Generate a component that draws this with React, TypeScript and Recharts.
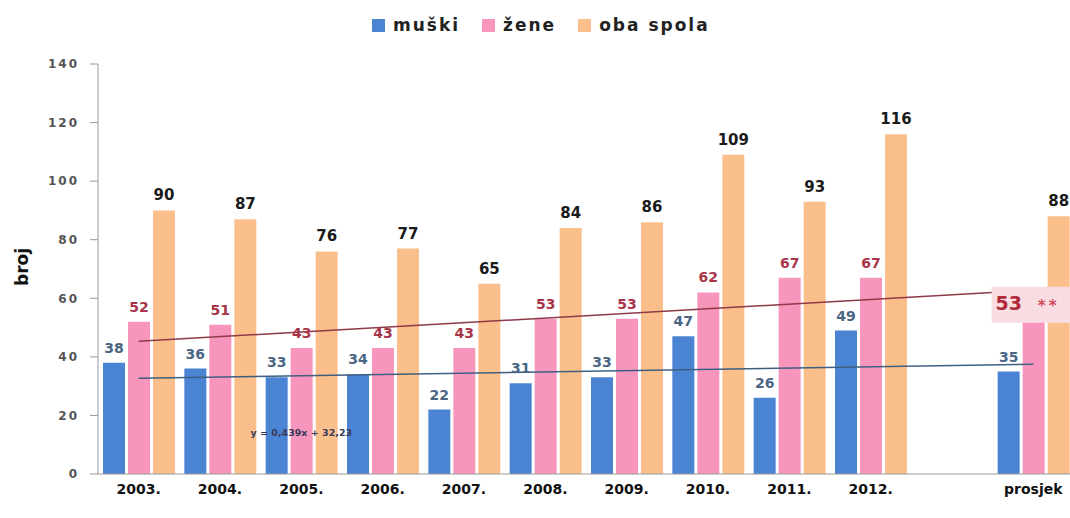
import {
  Bar,
  ComposedChart,
  LabelList,
  Line,
  ReferenceDot,
  XAxis,
  YAxis,
} from 'recharts'

const categories = ['2003.', '2004.', '2005.', '2006.', '2007.', '2008.', '2009.', '2010.', '2011.', '2012.', '', 'prosjek']
const muski = [38, 36, 33, 34, 22, 31, 33, 47, 26, 49, null, 35]
const zene = [52, 51, 43, 43, 43, 53, 53, 62, 67, 67, null, 53]
const obaSpola = [90, 87, 76, 77, 65, 84, 86, 109, 93, 116, null, 88]
// trendlines at first and last category
const trendMuski = [32.7, null, null, null, null, null, null, null, null, null, null, 37.5]
const trendZene = [45.3, null, null, null, null, null, null, null, null, null, null, 62.8]
const yTicks = [0, 20, 40, 60, 80, 100, 120, 140]
const equation = 'y = 0,439x + 32,23'
const seriesNames = ['muški', 'žene', 'oba spola']
const highlighted = 'prosjek'

const BLUE = '#4b84d2'
const PINK = '#f795bd'
const ORANGE = '#fbbf8b'
const FONT = '"DejaVu Sans", sans-serif'

const data = categories.map((name, i) => ({
  name,
  muski: muski[i],
  zene: zene[i],
  oba: obaSpola[i],
  zeneLbl: name === highlighted ? null : zene[i],
  zeneHl: name === highlighted ? zene[i] : null,
  trendM: trendMuski[i],
  trendZ: trendZene[i],
}))

const makeLabel = (color: string, size: number) => (props: any) => {
  const { x, y, width, value } = props
  if (value == null) return null
  return (
    <text x={x + width / 2} y={y - 10} textAnchor="middle" fill={color} fontSize={size} fontWeight="bold" fontFamily={FONT}>
      {value}
    </text>
  )
}

const highlightLabel = (props: any) => {
  const { x, y, value } = props
  if (value == null) return null
  return (
    <g>
      <rect x={x - 31} y={y - 32} width={90} height={36} fill="#f9dde2" />
      <text x={x - 14} y={y - 9} textAnchor="middle" fill="#b02a3c" fontSize={19} fontWeight="bold" fontFamily={FONT}>
        {value}
      </text>
      <text x={x + 26} y={y - 8} textAnchor="middle" fill="#d04a5c" fontSize={15} fontWeight="bold" fontFamily={FONT} letterSpacing={3}>
        **
      </text>
    </g>
  )
}

const legendColors = [BLUE, PINK, ORANGE]

export default function App() {
  return (
    <div
      style={{
        position: 'fixed',
        left: 0,
        top: 0,
        width: 1070,
        height: 518,
        overflow: 'hidden',
        background: '#fff',
        fontFamily: FONT,
      }}
    >
      <div style={{ position: 'absolute', left: 372, top: 15, display: 'flex', alignItems: 'center' }}>
        {seriesNames.map((s, i) => (
          <div key={s} style={{ display: 'flex', alignItems: 'center', marginRight: 22 }}>
            <div style={{ width: 13, height: 13, background: legendColors[i], marginRight: 8 }} />
            <span style={{ fontSize: 17, fontWeight: 'bold', color: '#222', letterSpacing: 2 }}>{s}</span>
          </div>
        ))}
      </div>
      <ComposedChart
        width={1080}
        height={518}
        data={data}
        margin={{ top: 64, right: 6, bottom: 0, left: 0 }}
        barCategoryGap={5}
        barGap={3}
      >
        <XAxis
          dataKey="name"
          height={44}
          tickLine={false}
          tickSize={0}
          tickMargin={10}
          axisLine={{ stroke: '#999' }}
          tick={{ fill: '#111', fontSize: 14, fontWeight: 'bold', fontFamily: FONT }}
          interval={0}
        />
        <YAxis
          width={98}
          domain={[0, 140]}
          ticks={yTicks}
          tickSize={8}
          tickMargin={11}
          axisLine={{ stroke: '#999' }}
          tickLine={{ stroke: '#999' }}
          tick={{ fill: '#555', fontSize: 12, fontWeight: 'bold', fontFamily: FONT, letterSpacing: 2 }}
          label={{
            content: (p: any) => {
              const vb = p.viewBox
              const cy = vb.y + vb.height / 2
              return (
                <text
                  transform={`translate(${vb.x + 28},${cy - 2}) rotate(-90)`}
                  textAnchor="middle"
                  fontSize={17}
                  fontWeight="bold"
                  fill="#111"
                  fontFamily={FONT}
                >
                  broj
                </text>
              )
            },
          }}
        />
        <Bar dataKey="muski" name="muški" fill={BLUE} isAnimationActive={false}>
          <LabelList dataKey="muski" content={makeLabel('#4a6584', 14)} />
        </Bar>
        <Bar dataKey="zene" name="žene" fill={PINK} isAnimationActive={false}>
          <LabelList dataKey="zeneLbl" content={makeLabel('#a8344a', 14)} />
          <LabelList dataKey="zeneHl" content={highlightLabel} />
        </Bar>
        <Bar dataKey="oba" name="oba spola" fill={ORANGE} isAnimationActive={false}>
          <LabelList dataKey="oba" content={makeLabel('#1a1a1a', 15)} />
        </Bar>
        <Line
          dataKey="trendZ"
          stroke="#8e3a48"
          strokeWidth={1.5}
          dot={false}
          connectNulls
          isAnimationActive={false}
        />
        <Line
          dataKey="trendM"
          stroke="#3e5f80"
          strokeWidth={1.5}
          dot={false}
          connectNulls
          isAnimationActive={false}
        />
        <ReferenceDot
          x="2005."
          y={14}
          r={0}
          stroke="none"
          label={{ value: equation, position: 'center', fill: '#3a3a5a', fontSize: 9.5, fontWeight: 'bold', fontFamily: FONT }}
        />
      </ComposedChart>
    </div>
  )
}
